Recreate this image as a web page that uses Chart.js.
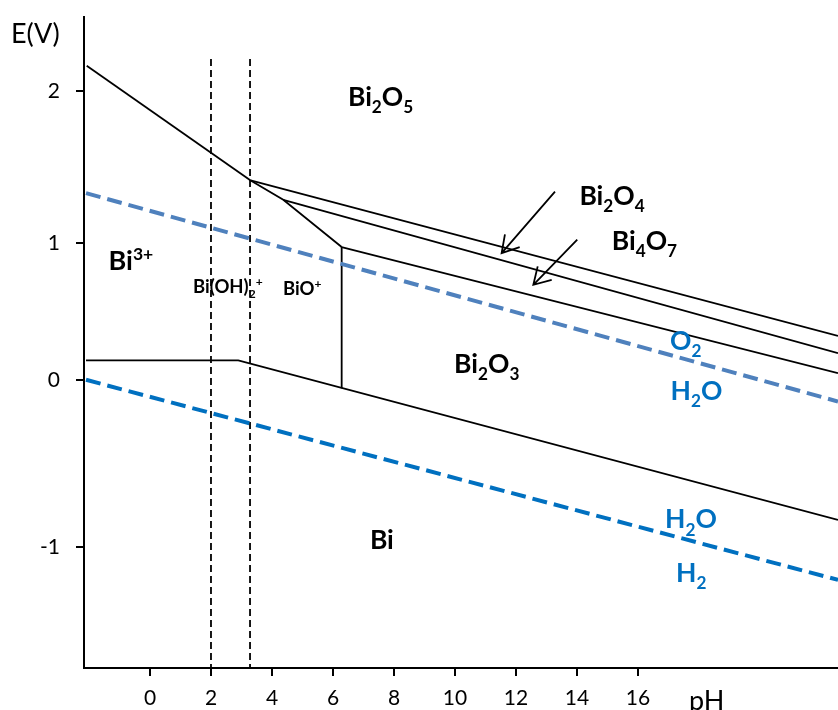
<!DOCTYPE html>
<html>
<head>
<meta charset="utf-8">
<script src="https://cdn.jsdelivr.net/npm/chart.js@4.4.0/dist/chart.umd.min.js"></script>
<style>
  html, body { margin: 0; padding: 0; background: #fff; }
  #wrap { width: 838px; height: 710px; }
</style>
</head>
<body>
<div id="wrap"><canvas id="chart" width="838" height="710"></canvas></div>
<script>
// ---------------------------------------------------------
// tick marks
// ---------------------------------------------------------
const xTickValues = [0, 2, 4, 6, 8, 10, 12, 14, 16];
const yTickValues = [2, 1, 0.1, -1];   // where the sketch puts its marks
const yTickLabels = ['2', '1', '0', '-1'];

// ---------------------------------------------------------
// domain boundaries (pH, E in V)
// ---------------------------------------------------------
const bi3Bi2o5Ph = [-2.075, 3.3];
const bi3Bi2o5E  = [2.169, 1.414];

const bi2o5Bi2o4Ph = [3.3, 22.56];
const bi2o5Bi2o4E  = [1.414, 0.391];

const bioOxidesPh = [3.3, 4.37, 6.285];
const bioOxidesE  = [1.414, 1.287, 0.976];

const bi2o4Bi4o7Ph = [4.37, 22.56];
const bi2o4Bi4o7E  = [1.287, 0.278];

const bi4o7Bi2o3Ph = [6.285, 22.56];
const bi4o7Bi2o3E  = [0.976, 0.146];

const bioBi2o3Ph = [6.285, 6.285];
const bioBi2o3E  = [0.976, 0.047];

const bi3BiPh = [-2.098, 2.895, 22.56];
const bi3BiE  = [0.230, 0.230, -0.820];

// water stability lines
const o2H2oPh = [-2.098, 22.56];
const o2H2oE  = [1.331, -0.041];

const h2oH2Ph = [-2.098, 22.56];
const h2oH2E  = [0.102, -1.215];

// hydrolysis limits (vertical dashed)
const hydroPh  = [2, 3.28];
const hydroTop = 2.213;

// arrows pointing at the thin oxide bands
const arrowFromPh = [13.28, 14.01];
const arrowFromE  = [1.340, 1.024];
const arrowToPh   = [11.53, 12.57];
const arrowToE    = [0.936, 0.727];

const X_MIN = -2.164, X_MAX = 22.56;
const Y_MIN = -1.795, Y_MAX = 2.49;

// ---------------------------------------------------------
// species labels (position in pH / E, text runs)
// ---------------------------------------------------------
const BLUE = '#0070C0';
const speciesLabels = [
    { pH: 6.49,  E: 1.906,  size: 26.5, color: '#000', parts: [['Bi'], ['2', 'sub'], ['O'], ['5', 'sub']] },
    { pH: -1.36, E: 0.826,  size: 27,   color: '#000', parts: [['Bi'], ['3+', 'sup']] },
    { pH: 1.41,  E: 0.6745, size: 18.5, color: '#000', parts: [['Bi(OH)'], ['2', 'sub'], ['+', 'sup']] },
    { pH: 4.36,  E: 0.661,  size: 18.5, color: '#000', parts: [['BiO'], ['+', 'sup']] },
    { pH: 9.97,  E: 0.150,  size: 26.5, color: '#000', parts: [['Bi'], ['2', 'sub'], ['O'], ['3', 'sub']] },
    { pH: 14.08, E: 1.254,  size: 26.5, color: '#000', parts: [['Bi'], ['2', 'sub'], ['O'], ['4', 'sub']] },
    { pH: 15.14, E: 0.958,  size: 26.5, color: '#000', parts: [['Bi'], ['4', 'sub'], ['O'], ['7', 'sub']] },
    { pH: 7.21,  E: -1.011, size: 26.5, color: '#000', parts: [['Bi']] },
    { pH: 17.05, E: 0.299,  size: 26.5, color: BLUE, parts: [['O'], ['2', 'sub']] },
    { pH: 17.07, E: -0.030, size: 26.5, color: BLUE, parts: [['H'], ['2', 'sub'], ['O']] },
    { pH: 16.89, E: -0.875, size: 26.5, color: BLUE, parts: [['H'], ['2', 'sub'], ['O']] },
    { pH: 17.25, E: -1.226, size: 26.5, color: BLUE, parts: [['H'], ['2', 'sub']] }
];

const FONT = 'Lato, "Open Sans", sans-serif';

function seg(ph, e) {
    return ph.map((p, i) => ({ x: p, y: e[i] }));
}

function drawRich(ctx, parts, x, y, size, color) {
    ctx.fillStyle = color;
    ctx.textAlign = 'left';
    ctx.textBaseline = 'alphabetic';
    let cx = x;
    parts.forEach(([t, kind]) => {
        const s = kind ? size * 0.65 : size;
        const dy = kind === 'sub' ? size * 0.28 : kind === 'sup' ? -size * 0.36 : 0;
        ctx.font = `bold ${s}px ${FONT}`;
        ctx.fillText(t, cx, y + dy);
        cx += ctx.measureText(t).width;
    });
}

const annotate = {
    id: 'annotate',
    afterDatasetsDraw(chart) {
        const ctx = chart.ctx;
        const xs = chart.scales.x, ys = chart.scales.y;
        ctx.save();

        // arrows with open heads
        ctx.strokeStyle = '#000';
        ctx.lineWidth = 1.8;
        for (let i = 0; i < arrowFromPh.length; i++) {
            const x0 = xs.getPixelForValue(arrowFromPh[i]), y0 = ys.getPixelForValue(arrowFromE[i]);
            const x1 = xs.getPixelForValue(arrowToPh[i]),   y1 = ys.getPixelForValue(arrowToE[i]);
            const a = Math.atan2(y0 - y1, x0 - x1);
            ctx.beginPath();
            ctx.moveTo(x0, y0);
            ctx.lineTo(x1, y1);
            ctx.moveTo(x1 + 19 * Math.cos(a - 0.54), y1 + 19 * Math.sin(a - 0.54));
            ctx.lineTo(x1, y1);
            ctx.lineTo(x1 + 19 * Math.cos(a + 0.54), y1 + 19 * Math.sin(a + 0.54));
            ctx.stroke();
        }

        speciesLabels.forEach(l => {
            drawRich(ctx, l.parts, xs.getPixelForValue(l.pH), ys.getPixelForValue(l.E), l.size, l.color);
        });

        // axis titles
        ctx.fillStyle = '#000';
        ctx.font = `27px ${FONT}`;
        ctx.textAlign = 'left';
        ctx.textBaseline = 'alphabetic';
        ctx.fillText('E(V)', 11, 43);
        ctx.fillText('pH', 689, 710);
        ctx.restore();
    }
};

const solid = { borderColor: '#000', borderWidth: 1.8 };

const datasets = [
    { data: seg(o2H2oPh, o2H2oE), borderColor: '#4F81BD', borderWidth: 4, borderDash: [15, 7] },
    { data: seg(h2oH2Ph, h2oH2E), borderColor: BLUE, borderWidth: 4, borderDash: [15, 7] },
    { data: seg([hydroPh[0], hydroPh[0]], [hydroTop, Y_MIN]), borderColor: '#000', borderWidth: 1.8, borderDash: [7, 4] },
    { data: seg([hydroPh[1], hydroPh[1]], [hydroTop, Y_MIN]), borderColor: '#000', borderWidth: 1.8, borderDash: [7, 4] },
    { data: seg(bi3Bi2o5Ph, bi3Bi2o5E), ...solid },
    { data: seg(bi2o5Bi2o4Ph, bi2o5Bi2o4E), ...solid },
    { data: seg(bioOxidesPh, bioOxidesE), ...solid },
    { data: seg(bi2o4Bi4o7Ph, bi2o4Bi4o7E), ...solid },
    { data: seg(bi4o7Bi2o3Ph, bi4o7Bi2o3E), ...solid },
    { data: seg(bioBi2o3Ph, bioBi2o3E), ...solid },
    { data: seg(bi3BiPh, bi3BiE), ...solid }
].map(d => Object.assign({ showLine: true, pointRadius: 0, fill: false, tension: 0 }, d));

const axisGrid = { drawOnChartArea: false, drawTicks: true, tickLength: 8, color: '#000', lineWidth: 2 };
const axisBorder = { display: true, color: '#000', width: 2 };

new Chart(document.getElementById('chart').getContext('2d'), {
    type: 'scatter',
    data: { datasets: datasets },
    options: {
        responsive: false,
        animation: false,
        devicePixelRatio: 1,
        layout: { padding: { top: 17, right: 0, left: 0, bottom: 0 } },
        plugins: { legend: { display: false }, tooltip: { enabled: false } },
        scales: {
            x: {
                type: 'linear', min: X_MIN, max: X_MAX,
                afterBuildTicks: s => { s.ticks = xTickValues.map(v => ({ value: v })); },
                afterFit: s => { s.height = 42; s.paddingLeft = 0; s.paddingRight = 0; },
                grid: axisGrid,
                border: axisBorder,
                ticks: {
                    color: '#000', padding: 10, maxRotation: 0, autoSkip: false,
                    font: { family: FONT, size: 21 },
                    callback: v => String(v)
                }
            },
            y: {
                type: 'linear', min: Y_MIN, max: Y_MAX,
                afterBuildTicks: s => { s.ticks = yTickValues.map(v => ({ value: v })); },
                afterFit: s => { s.width = 84; s.paddingTop = 0; s.paddingBottom = 0; },
                grid: axisGrid,
                border: axisBorder,
                ticks: {
                    color: '#000', padding: 16, autoSkip: false,
                    font: { family: FONT, size: 21 },
                    callback: (v, i) => yTickLabels[i]
                }
            }
        }
    },
    plugins: [annotate]
});
</script>
</body>
</html>
